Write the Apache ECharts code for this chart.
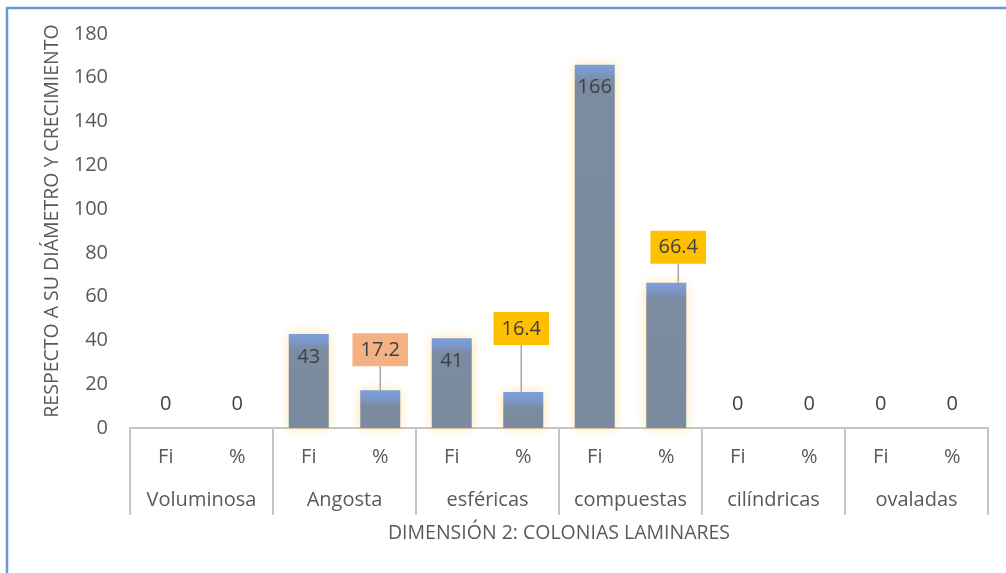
<!DOCTYPE html>
<html>
<head>
<meta charset="utf-8">
<script src="https://cdn.jsdelivr.net/npm/echarts@6/dist/echarts.min.js"></script>
<style>
html,body{margin:0;padding:0;background:#fff;}
#chart{width:1006px;height:573px;}
</style>
</head>
<body>
<div id="chart"></div>
<script>
// ---- data ----
const groups = ['Voluminosa', 'Angosta', 'esféricas', 'compuestas', 'cilíndricas', 'ovaladas'];
const subLabels = ['Fi', '%'];
const fiValues = [0, 43, 41, 166, 0, 0];
const pctValues = [0, 17.2, 16.4, 66.4, 0, 0];
const yTicks = { min: 0, max: 180, interval: 20 };
const xTitle = 'DIMENSIÓN 2: COLONIAS LAMINARES';
const yTitle = 'RESPECTO A SU DIÁMETRO Y CRECIMIENTO';

// ---- styles (kept separate from data) ----
const FONT = 'Open Sans';
const TXT = '#595959';
const AXIS = '#c4c4c4';
const FS = 20;
const pctBoxColors = [null, '#f4b183', '#ffc000', '#ffc000', null, null];
const pctLabelShift = [null, [0, -19], [-2, -42], [12, -14], null, null];

const categories = [];
const values = [];
const groupIdx = [];
const kind = [];
groups.forEach((g, i) => {
  categories.push(subLabels[0]); values.push(fiValues[i]); groupIdx.push(i); kind.push('fi');
  categories.push(subLabels[1]); values.push(pctValues[i]); groupIdx.push(i); kind.push('pct');
});

function barColor(v) {
  const px = Math.max(v, 1) * 2.19;
  const a = Math.min(0.4, 7 / px);
  const b = Math.min(0.7, 16 / px);
  return new echarts.graphic.LinearGradient(0, 0, 0, 1, [
    { offset: 0, color: '#7d9edb' },
    { offset: a, color: '#7c99cc' },
    { offset: b, color: '#7b8ca2' },
    { offset: 1, color: '#7a8b9f' }
  ]);
}

const seriesData = values.map((v, k) => {
  const gi = groupIdx[k];
  let label;
  if (v === 0) {
    label = { show: true, position: 'top', distance: 14, color: '#404040', fontSize: FS, fontFamily: FONT };
  } else if (kind[k] === 'fi') {
    label = { show: true, position: 'insideTop', distance: 13, color: '#404040', fontSize: FS, fontFamily: FONT };
  } else {
    label = {
      show: true, position: 'top', distance: 5,
      color: '#404040', fontSize: FS, fontFamily: FONT,
      backgroundColor: pctBoxColors[gi],
      padding: [7, 8, 6, 8]
    };
  }
  return {
    value: v,
    label: label,
    labelLine: { show: kind[k] === 'pct' && v > 0, lineStyle: { color: '#a6a6a6', width: 1.5 } },
    itemStyle: { color: barColor(v) }
  };
});

const chart = echarts.init(document.getElementById('chart'));
chart.setOption({
  backgroundColor: '#ffffff',
  animation: false,
  textStyle: { fontFamily: FONT },
  graphic: [{
    type: 'rect', silent: true, z: 100,
    shape: { x: 7, y: 8, width: 1100, height: 700 },
    style: { fill: 'none', stroke: '#6d97cf', lineWidth: 2.5 }
  }],
  grid: { left: 130, right: 18, top: 34, bottom: 145 },
  xAxis: [{
    type: 'category',
    data: categories,
    position: 'bottom',
    axisLine: { show: true, lineStyle: { color: AXIS, width: 2 } },
    axisTick: { show: false },
    axisLabel: { margin: 19, color: TXT, fontSize: FS, fontFamily: FONT, interval: 0 }
  }, {
    type: 'category',
    data: groups,
    position: 'bottom',
    axisLine: { show: false },
    axisTick: { show: true, length: 87, lineStyle: { color: AXIS, width: 2 } },
    axisLabel: { margin: 62, color: TXT, fontSize: FS, fontFamily: FONT, interval: 0 },
    name: xTitle,
    nameLocation: 'middle',
    nameGap: 95,
    nameMoveOverlap: false,
    nameTextStyle: { color: TXT, fontSize: 19.5, fontFamily: FONT }
  }],
  yAxis: {
    type: 'value',
    min: yTicks.min, max: yTicks.max, interval: yTicks.interval,
    axisLine: { show: false },
    axisTick: { show: false },
    splitLine: { show: false },
    axisLabel: { margin: 22, color: TXT, fontSize: FS, fontFamily: FONT },
    name: yTitle,
    nameLocation: 'middle',
    nameRotate: 90,
    nameGap: 68,
    nameMoveOverlap: false,
    nameTextStyle: { color: TXT, fontSize: 19.5, fontFamily: FONT, padding: [0, 0, 0, 20] }
  },
  series: [{
    type: 'bar',
    xAxisIndex: 0,
    data: seriesData,
    barWidth: 40,
    itemStyle: { shadowBlur: 10, shadowColor: 'rgba(255, 196, 40, 0.45)' },
    labelLayout: function (params) {
      const k = params.dataIndex;
      if (kind[k] === 'pct' && values[k] > 0) {
        const s = pctLabelShift[groupIdx[k]];
        return { dx: s[0], dy: s[1] };
      }
      return {};
    }
  }]
});
</script>
</body>
</html>
